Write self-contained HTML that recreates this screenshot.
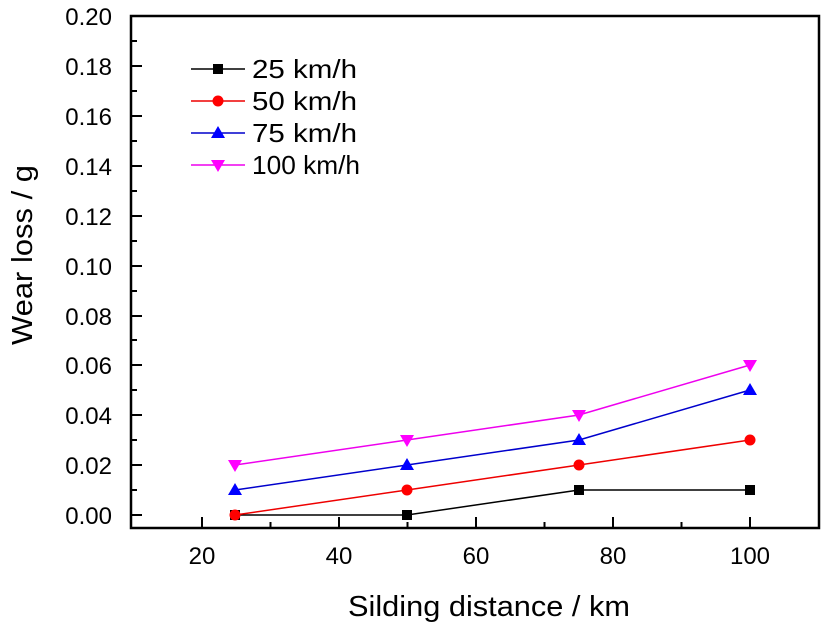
<!DOCTYPE html>
<html><head><style>body{margin:0;background:#fff}svg{display:block}text{font-family:"Liberation Sans",Arial,sans-serif}</style></head>
<body>
<svg width="827" height="630" viewBox="0 0 827 630" xmlns="http://www.w3.org/2000/svg">
<rect x="131" y="16" width="688" height="512" fill="none" stroke="#000" stroke-width="2.5"/>
<g stroke="#000" stroke-width="2">
<line x1="131" y1="515" x2="142" y2="515"/><line x1="131" y1="465" x2="142" y2="465"/><line x1="131" y1="415" x2="142" y2="415"/><line x1="131" y1="365" x2="142" y2="365"/><line x1="131" y1="316" x2="142" y2="316"/><line x1="131" y1="266" x2="142" y2="266"/><line x1="131" y1="216" x2="142" y2="216"/><line x1="131" y1="166" x2="142" y2="166"/><line x1="131" y1="116" x2="142" y2="116"/><line x1="131" y1="66" x2="142" y2="66"/>
<line x1="131" y1="490" x2="137" y2="490"/><line x1="131" y1="440" x2="137" y2="440"/><line x1="131" y1="390" x2="137" y2="390"/><line x1="131" y1="340" x2="137" y2="340"/><line x1="131" y1="291" x2="137" y2="291"/><line x1="131" y1="241" x2="137" y2="241"/><line x1="131" y1="191" x2="137" y2="191"/><line x1="131" y1="141" x2="137" y2="141"/><line x1="131" y1="91" x2="137" y2="91"/><line x1="131" y1="41" x2="137" y2="41"/>
<line x1="202" y1="528" x2="202" y2="517"/><line x1="339" y1="528" x2="339" y2="517"/><line x1="476" y1="528" x2="476" y2="517"/><line x1="613" y1="528" x2="613" y2="517"/><line x1="750" y1="528" x2="750" y2="517"/>
<line x1="270.5" y1="528" x2="270.5" y2="522"/><line x1="407.5" y1="528" x2="407.5" y2="522"/><line x1="544.5" y1="528" x2="544.5" y2="522"/><line x1="681.5" y1="528" x2="681.5" y2="522"/>
</g>
<g font-size="24" text-anchor="end">
<text x="112" y="524">0.00</text><text x="112" y="474">0.02</text><text x="112" y="424">0.04</text><text x="112" y="374">0.06</text><text x="112" y="325">0.08</text><text x="112" y="275">0.10</text><text x="112" y="225">0.12</text><text x="112" y="175">0.14</text><text x="112" y="125">0.16</text><text x="112" y="75">0.18</text><text x="112" y="25">0.20</text>
</g>
<g font-size="24" text-anchor="middle">
<text x="202" y="564">20</text><text x="339" y="564">40</text><text x="476" y="564">60</text><text x="613" y="564">80</text><text x="750" y="564">100</text>
</g>
<text x="348" y="616" font-size="29" textLength="282" lengthAdjust="spacingAndGlyphs">Silding distance / km</text>
<text transform="translate(32,345) rotate(-90)" font-size="29" textLength="180" lengthAdjust="spacingAndGlyphs">Wear loss / g</text>
<polyline points="235,515 407,515 579,490 750,490" fill="none" stroke="#000" stroke-width="1.5"/>
<polyline points="235,515 407,490 579,465 750,440" fill="none" stroke="#e00" stroke-width="1.5"/>
<polyline points="235,490 407,465 579,440 750,390" fill="none" stroke="#00c" stroke-width="1.5"/>
<polyline points="235,465 407,440 579,415 750,365" fill="none" stroke="#e0e" stroke-width="1.5"/>
<g fill="#000"><rect x="230" y="510" width="10" height="10"/><rect x="402" y="510" width="10" height="10"/><rect x="574" y="485" width="10" height="10"/><rect x="745" y="485" width="10" height="10"/></g>
<g fill="#f00"><circle cx="235" cy="515" r="5.5"/><circle cx="407" cy="490" r="5.5"/><circle cx="579" cy="465" r="5.5"/><circle cx="750" cy="440" r="5.5"/></g>
<g fill="#00f"><polygon points="235,483 242,495 228,495"/><polygon points="407,458 414,470 400,470"/><polygon points="579,433 586,445 572,445"/><polygon points="750,383 757,395 743,395"/></g>
<g fill="#f0f"><polygon points="235,472 242,460 228,460"/><polygon points="407,447 414,435 400,435"/><polygon points="579,422 586,410 572,410"/><polygon points="750,372 757,360 743,360"/></g>
<line x1="191" y1="69" x2="245" y2="69" stroke="#000" stroke-width="1.5"/><rect x="213" y="64" width="10" height="10" fill="#000"/>
<line x1="191" y1="101" x2="245" y2="101" stroke="#e00" stroke-width="1.5"/><circle cx="218" cy="101" r="5.5" fill="#f00"/>
<line x1="191" y1="133" x2="245" y2="133" stroke="#00c" stroke-width="1.5"/><polygon points="218,126 225,138 211,138" fill="#00f"/>
<line x1="191" y1="165" x2="245" y2="165" stroke="#e0e" stroke-width="1.5"/><polygon points="218,172 225,160 211,160" fill="#f0f"/>
<g font-size="26"><text x="252" y="78" textLength="105" lengthAdjust="spacingAndGlyphs">25 km/h</text><text x="252" y="110" textLength="105" lengthAdjust="spacingAndGlyphs">50 km/h</text><text x="252" y="142" textLength="105" lengthAdjust="spacingAndGlyphs">75 km/h</text><text x="252" y="174" textLength="108" lengthAdjust="spacingAndGlyphs">100 km/h</text></g>
</svg>
</body></html>
